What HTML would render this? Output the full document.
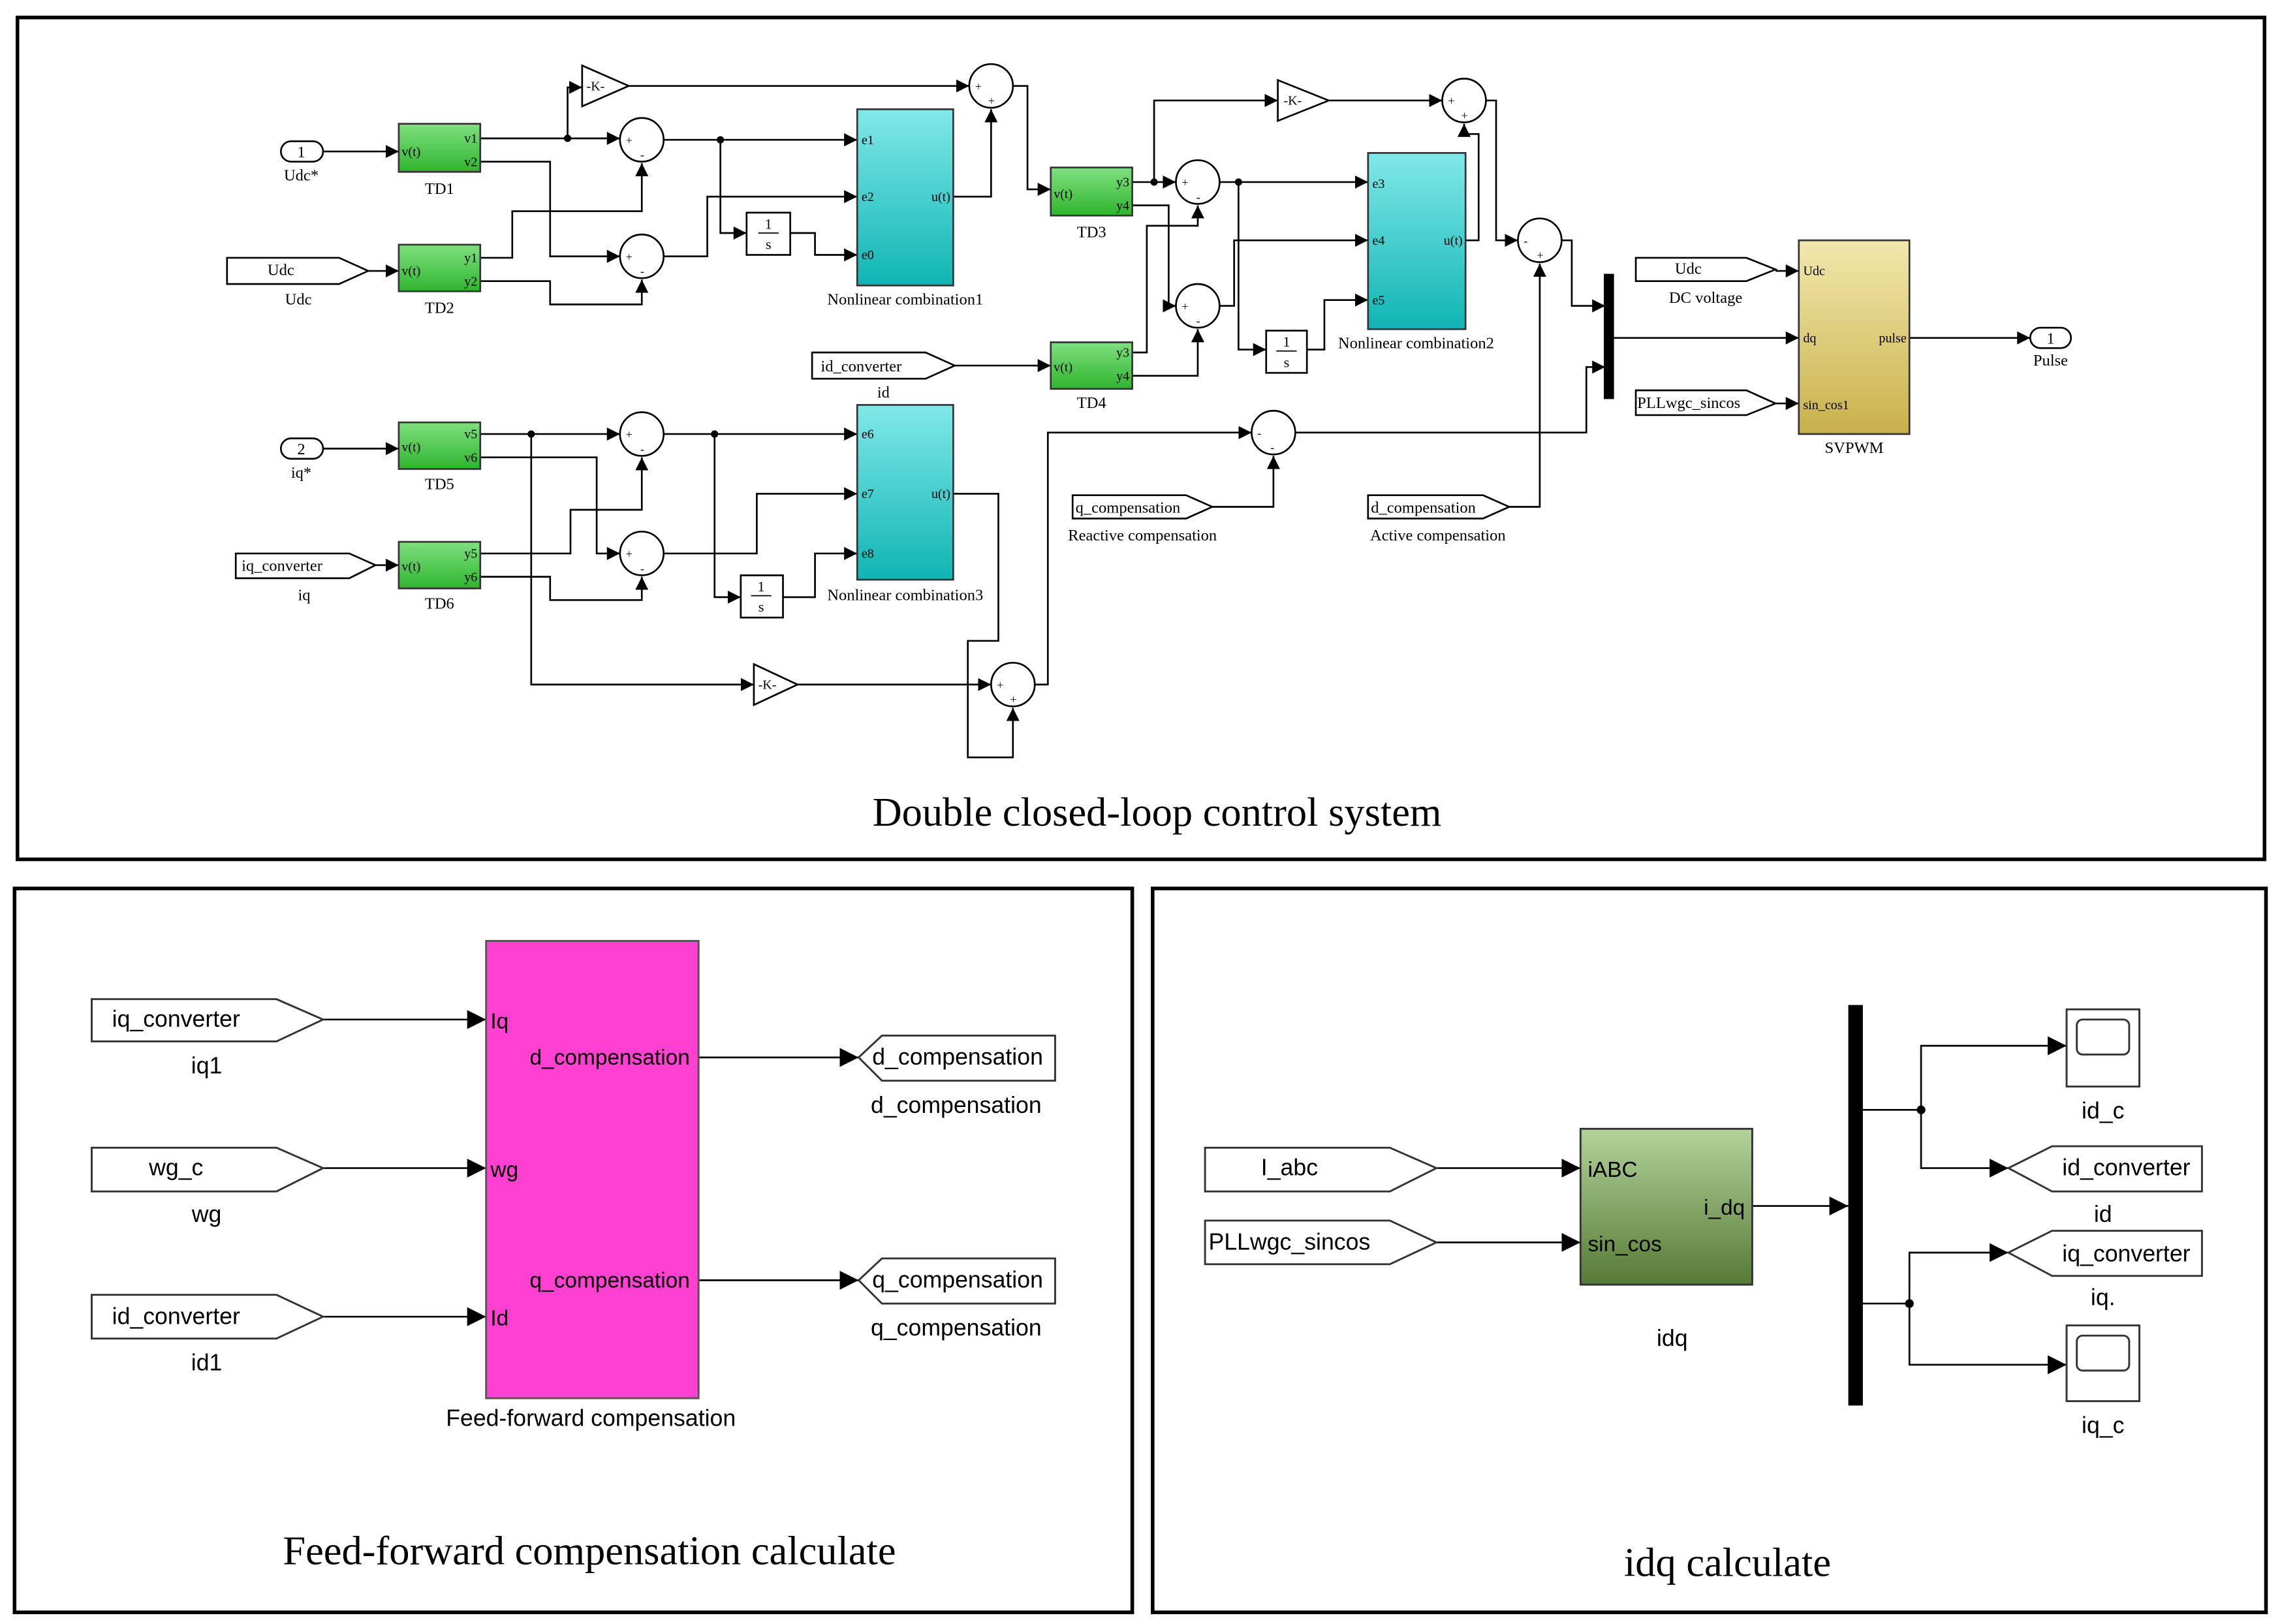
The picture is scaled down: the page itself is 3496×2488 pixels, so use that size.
<!DOCTYPE html>
<html><head><meta charset="utf-8"><style>html,body{margin:0;padding:0;background:#fff}svg{display:block}</style></head>
<body>
<svg width="3496" height="2488" viewBox="0 0 1568 1115" preserveAspectRatio="none" xmlns="http://www.w3.org/2000/svg">
<defs>
<marker id="a" viewBox="0 0 10 10" refX="10" refY="5" markerWidth="9" markerHeight="9" markerUnits="userSpaceOnUse" orient="auto"><path d="M0,0L10,5L0,10z" fill="#000"/></marker>
<marker id="b" viewBox="0 0 10 10" refX="10" refY="5" markerWidth="13" markerHeight="13" markerUnits="userSpaceOnUse" orient="auto"><path d="M0,0L10,5L0,10z" fill="#000"/></marker>
<linearGradient id="gr" x1="0" y1="0" x2="0" y2="1"><stop offset="0" stop-color="#7fe07f"/><stop offset="1" stop-color="#2fb52f"/></linearGradient>
<linearGradient id="cy" x1="0" y1="0" x2="0" y2="1"><stop offset="0" stop-color="#80e8e8"/><stop offset="1" stop-color="#10b4b4"/></linearGradient>
<linearGradient id="ye" x1="0" y1="0" x2="0" y2="1"><stop offset="0" stop-color="#f2e8ac"/><stop offset="1" stop-color="#c8b04a"/></linearGradient>
<linearGradient id="og" x1="0" y1="0" x2="0" y2="1"><stop offset="0" stop-color="#b3d39a"/><stop offset="1" stop-color="#567a36"/></linearGradient>
</defs>
<g fill="none" stroke="#000" stroke-width="2.5">
<rect x="12" y="12" width="1544" height="578"/>
<rect x="10" y="610" width="768" height="497"/>
<rect x="792" y="610" width="765" height="497"/>
</g>

<!-- TOP PANEL -->
<g font-family="Liberation Serif, serif" font-size="11" fill="#000">
<g stroke="#000" stroke-width="1.2" fill="none" marker-end="url(#a)">
<path d="M222,104H274"/><path d="M253,186H274"/>
<path d="M330,95H426"/><path d="M390,95V60H400"/>
<path d="M432,59H666"/>
<path d="M456,96H589"/><path d="M495,96V160H513"/><path d="M543,160H560V175H589"/>
<path d="M330,111H378V176H426"/>
<path d="M330,177H352V145H441V112"/>
<path d="M330,193H378V209H441V192"/>
<path d="M456,176H486V135H589"/>
<path d="M655,135H681V75"/>
<path d="M696,59H706V130H722"/>
<path d="M778,125H808"/><path d="M793,125V69H878"/><path d="M913,69H991"/>
<path d="M838,125H940"/><path d="M851,125V240H870"/><path d="M898,240H910V206H940"/>
<path d="M778,141H803V210H808"/>
<path d="M656,251H722"/>
<path d="M778,242H788V155H823V141"/>
<path d="M778,258H823V226"/>
<path d="M838,210H848V165H940"/>
<path d="M1007,165H1016V92H1006V85"/>
<path d="M1021,69H1028V165H1043"/>
<path d="M1073,165H1080V210H1103"/>
<path d="M1109,232H1236"/>
<path d="M1220,186H1236"/><path d="M1220,277H1236"/>
<path d="M1312,232H1395"/>
<path d="M1037,348H1058V181"/>
<path d="M890,297H1090V252H1103"/>
<path d="M833,348H875V313"/>
<path d="M222,308H274"/><path d="M258,388H274"/>
<path d="M330,298H426"/><path d="M365,298V470H518"/><path d="M548,470H681"/>
<path d="M456,298H589"/><path d="M491,298V410H509"/><path d="M538,410H560V380H589"/>
<path d="M330,314H410V380H426"/>
<path d="M330,380H392V350H441V314"/>
<path d="M330,396H378V412H441V396"/>
<path d="M456,380H520V339H589"/>
<path d="M655,339H686V440H665V520H696V486"/>
<path d="M711,470H720V297H860"/>
</g>
<g fill="#000"><circle cx="390" cy="95" r="2.5"/><circle cx="495" cy="96" r="2.5"/><circle cx="793" cy="125" r="2.5"/><circle cx="851" cy="125" r="2.5"/><circle cx="365" cy="298" r="2.5"/><circle cx="491" cy="298" r="2.5"/></g>

<!-- inports -->
<g stroke="#000" stroke-width="1.2" fill="#fff">
<rect x="193" y="97" width="29" height="14" rx="7"/><rect x="193" y="301" width="29" height="14" rx="7"/>
<rect x="1395" y="225" width="28" height="14" rx="7"/>
<path d="M156,177H233L253,186L233,195H156Z"/>
<path d="M162,380H240L258,388L240,397H162Z"/>
<path d="M558,242H636L656,251L636,260H558Z"/>
<path d="M1124,177H1200L1220,185L1200,193H1124Z"/>
<path d="M1124,268H1200L1220,277L1200,285H1124Z"/>
<path d="M737,340H815L833,348L815,356H737Z"/>
<path d="M940,340H1019L1037,348L1019,356H940Z"/>
</g>
<text x="207" y="108" text-anchor="middle">1</text><text x="207" y="124" text-anchor="middle">Udc*</text>
<text x="207" y="312" text-anchor="middle">2</text><text x="207" y="328" text-anchor="middle">iq*</text>
<text x="1409" y="236" text-anchor="middle">1</text><text x="1409" y="251" text-anchor="middle">Pulse</text>
<text x="193" y="189" text-anchor="middle">Udc</text><text x="205" y="209" text-anchor="middle">Udc</text>
<text x="166" y="392">iq_converter</text><text x="209" y="412" text-anchor="middle">iq</text>
<text x="564" y="255">id_converter</text><text x="607" y="273" text-anchor="middle">id</text>
<text x="1160" y="188" text-anchor="middle">Udc</text><text x="1172" y="208" text-anchor="middle">DC voltage</text>
<text x="1125" y="280">PLLwgc_sincos</text>
<text x="739" y="352">q_compensation</text><text x="785" y="371" text-anchor="middle">Reactive compensation</text>
<text x="942" y="352">d_compensation</text><text x="988" y="371" text-anchor="middle">Active compensation</text>

<!-- TD blocks -->
<g stroke="#333" stroke-width="1.2" fill="url(#gr)">
<rect x="274" y="85" width="56" height="33"/><rect x="274" y="168" width="56" height="32"/>
<rect x="722" y="115" width="56" height="33"/><rect x="722" y="235" width="56" height="32"/>
<rect x="274" y="290" width="56" height="32"/><rect x="274" y="372" width="56" height="32"/>
</g>
<g font-size="9">
<text x="276" y="107">v(t)</text><text x="328" y="98" text-anchor="end">v1</text><text x="328" y="114" text-anchor="end">v2</text>
<text x="276" y="189">v(t)</text><text x="328" y="180" text-anchor="end">y1</text><text x="328" y="196" text-anchor="end">y2</text>
<text x="724" y="136">v(t)</text><text x="776" y="128" text-anchor="end">y3</text><text x="776" y="144" text-anchor="end">y4</text>
<text x="724" y="255">v(t)</text><text x="776" y="245" text-anchor="end">y3</text><text x="776" y="261" text-anchor="end">y4</text>
<text x="276" y="310">v(t)</text><text x="328" y="301" text-anchor="end">v5</text><text x="328" y="317" text-anchor="end">v6</text>
<text x="276" y="392">v(t)</text><text x="328" y="383" text-anchor="end">y5</text><text x="328" y="399" text-anchor="end">y6</text>
</g>
<text x="302" y="133" text-anchor="middle">TD1</text><text x="302" y="215" text-anchor="middle">TD2</text>
<text x="750" y="163" text-anchor="middle">TD3</text><text x="750" y="280" text-anchor="middle">TD4</text>
<text x="302" y="336" text-anchor="middle">TD5</text><text x="302" y="418" text-anchor="middle">TD6</text>

<!-- NC blocks -->
<g stroke="#333" stroke-width="1.2" fill="url(#cy)">
<rect x="589" y="75" width="66" height="121"/><rect x="940" y="105" width="67" height="121"/><rect x="589" y="278" width="66" height="120"/>
</g>
<g font-size="9">
<text x="592" y="99">e1</text><text x="592" y="138">e2</text><text x="592" y="178">e0</text><text x="653" y="138" text-anchor="end">u(t)</text>
<text x="943" y="129">e3</text><text x="943" y="168">e4</text><text x="943" y="209">e5</text><text x="1005" y="168" text-anchor="end">u(t)</text>
<text x="592" y="301">e6</text><text x="592" y="342">e7</text><text x="592" y="383">e8</text><text x="653" y="342" text-anchor="end">u(t)</text>
</g>
<text x="622" y="209" text-anchor="middle">Nonlinear combination1</text>
<text x="973" y="239" text-anchor="middle">Nonlinear combination2</text>
<text x="622" y="412" text-anchor="middle">Nonlinear combination3</text>

<!-- SVPWM -->
<rect x="1236" y="165" width="76" height="133" fill="url(#ye)" stroke="#333" stroke-width="1.2"/>
<g font-size="9"><text x="1239" y="189">Udc</text><text x="1239" y="235">dq</text><text x="1239" y="281">sin_cos1</text><text x="1310" y="235" text-anchor="end">pulse</text></g>
<text x="1274" y="311" text-anchor="middle">SVPWM</text>
<rect x="1102" y="188" width="7" height="86" fill="#000"/>

<!-- gains -->
<g stroke="#000" stroke-width="1.2" fill="#fff">
<path d="M400,45L432,59L400,73Z"/><path d="M878,55L913,69L878,83Z"/><path d="M518,456L548,470L518,484Z"/>
</g>
<g font-size="9"><text x="403" y="62">-K-</text><text x="882" y="72">-K-</text><text x="521" y="473">-K-</text></g>

<!-- integrators -->
<g stroke="#000" stroke-width="1.2" fill="#fff">
<rect x="513" y="146" width="30" height="29"/><rect x="870" y="227" width="28" height="29"/><rect x="509" y="395" width="29" height="29"/>
</g>
<g font-size="10" text-anchor="middle">
<text x="528" y="157">1</text><text x="528" y="171">s</text><line x1="521" y1="160" x2="535" y2="160" stroke="#000" stroke-width="0.8"/>
<text x="884" y="238">1</text><text x="884" y="252">s</text><line x1="877" y1="241" x2="891" y2="241" stroke="#000" stroke-width="0.8"/>
<text x="523" y="406">1</text><text x="523" y="420">s</text><line x1="516" y1="409" x2="530" y2="409" stroke="#000" stroke-width="0.8"/>
</g>

<!-- sums -->
<g stroke="#000" stroke-width="1.2" fill="#fff">
<circle cx="441" cy="96" r="15"/><circle cx="441" cy="176" r="15"/><circle cx="681" cy="59" r="15"/>
<circle cx="823" cy="125" r="15"/><circle cx="823" cy="210" r="15"/><circle cx="1006" cy="69" r="15"/>
<circle cx="1058" cy="165" r="15"/><circle cx="441" cy="298" r="15"/><circle cx="441" cy="380" r="15"/>
<circle cx="696" cy="470" r="15"/><circle cx="875" cy="297" r="15"/>
</g>
<g font-size="8">
<text x="430" y="99">+</text><text x="440" y="109">-</text>
<text x="430" y="179">+</text><text x="440" y="189">-</text>
<text x="670" y="62">+</text><text x="679" y="72">+</text>
<text x="812" y="128">+</text><text x="822" y="138">-</text>
<text x="812" y="213">+</text><text x="822" y="223">-</text>
<text x="995" y="72">+</text><text x="1004" y="82">+</text>
<text x="1047" y="168">-</text><text x="1056" y="178">+</text>
<text x="430" y="301">+</text><text x="440" y="311">-</text>
<text x="430" y="383">+</text><text x="440" y="393">-</text>
<text x="685" y="473">+</text><text x="694" y="483">+</text>
<text x="864" y="300">-</text><text x="873" y="310">-</text>
</g>
<text x="795" y="567" text-anchor="middle" font-size="28">Double closed-loop control system</text>
</g>

<!-- BOTTOM LEFT -->
<g font-family="Liberation Sans, sans-serif" font-size="16" fill="#000">
<g stroke="#000" stroke-width="1.2" fill="none" marker-end="url(#b)">
<path d="M222,700H334"/><path d="M222,802H334"/><path d="M222,904H334"/>
<path d="M480,726H590"/><path d="M480,879H590"/>
</g>
<g stroke="#333" stroke-width="1.3" fill="#fff">
<path d="M63,686H190L222,700L190,715H63Z"/>
<path d="M63,788H190L222,802L190,818H63Z"/>
<path d="M63,889H190L222,904L190,919H63Z"/>
<path d="M590,726L606,711H725V742H606Z"/>
<path d="M590,879L606,864H725V895H606Z"/>
</g>
<rect x="334" y="646" width="146" height="314" fill="#ff40d0" stroke="#555" stroke-width="1.3"/>
<text x="121" y="705" text-anchor="middle">iq_converter</text><text x="142" y="737" text-anchor="middle">iq1</text>
<text x="121" y="807" text-anchor="middle">wg_c</text><text x="142" y="839" text-anchor="middle">wg</text>
<text x="121" y="909" text-anchor="middle">id_converter</text><text x="142" y="941" text-anchor="middle">id1</text>
<text x="337" y="706" font-size="15">Iq</text><text x="337" y="808" font-size="15">wg</text><text x="337" y="910" font-size="15">Id</text>
<text x="474" y="731" font-size="15" text-anchor="end">d_compensation</text>
<text x="474" y="884" font-size="15" text-anchor="end">q_compensation</text>
<text x="658" y="731" text-anchor="middle">d_compensation</text><text x="657" y="764" text-anchor="middle">d_compensation</text>
<text x="658" y="884" text-anchor="middle">q_compensation</text><text x="657" y="917" text-anchor="middle">q_compensation</text>
<text x="406" y="979" text-anchor="middle">Feed-forward compensation</text>
<text x="405" y="1074" text-anchor="middle" font-family="Liberation Serif, serif" font-size="28">Feed-forward compensation calculate</text>

<!-- BOTTOM RIGHT -->
<g stroke="#000" stroke-width="1.2" fill="none" marker-end="url(#b)">
<path d="M987,802H1086"/><path d="M987,853H1086"/><path d="M1204,828H1270"/>
<path d="M1280,762H1320V718H1420"/><path d="M1320,762V802H1380"/>
<path d="M1280,895H1312V860H1380"/><path d="M1312,895V937H1420"/>
</g>
<circle cx="1320" cy="762" r="3" fill="#000"/><circle cx="1312" cy="895" r="3" fill="#000"/>
<g stroke="#333" stroke-width="1.3" fill="#fff">
<path d="M828,788H955L987,802L955,818H828Z"/>
<path d="M828,838H955L987,853L955,868H828Z"/>
<path d="M1380,802L1410,787H1513V818H1410Z"/>
<path d="M1380,860L1410,845H1513V876H1410Z"/>
<rect x="1420" y="693" width="50" height="53"/><rect x="1420" y="910" width="50" height="52"/>
<rect x="1427" y="700" width="36" height="24" rx="4"/><rect x="1427" y="917" width="36" height="24" rx="4"/>
</g>
<rect x="1086" y="775" width="118" height="107" fill="url(#og)" stroke="#333" stroke-width="1.3"/>
<rect x="1270" y="690" width="10" height="275" fill="#000"/>
<text x="886" y="807" text-anchor="middle">I_abc</text>
<text x="886" y="858" text-anchor="middle">PLLwgc_sincos</text>
<text x="1091" y="808" font-size="15">iABC</text><text x="1091" y="859" font-size="15">sin_cos</text><text x="1199" y="834" font-size="15" text-anchor="end">i_dq</text>
<text x="1149" y="924" text-anchor="middle">idq</text>
<text x="1445" y="768" text-anchor="middle">id_c</text><text x="1445" y="984" text-anchor="middle">iq_c</text>
<text x="1461" y="807" text-anchor="middle">id_converter</text><text x="1445" y="839" text-anchor="middle">id</text>
<text x="1461" y="866" text-anchor="middle">iq_converter</text><text x="1445" y="896" text-anchor="middle">iq.</text>
<text x="1187" y="1082" text-anchor="middle" font-family="Liberation Serif, serif" font-size="28">idq calculate</text>
</g>
</svg>
</body></html>
